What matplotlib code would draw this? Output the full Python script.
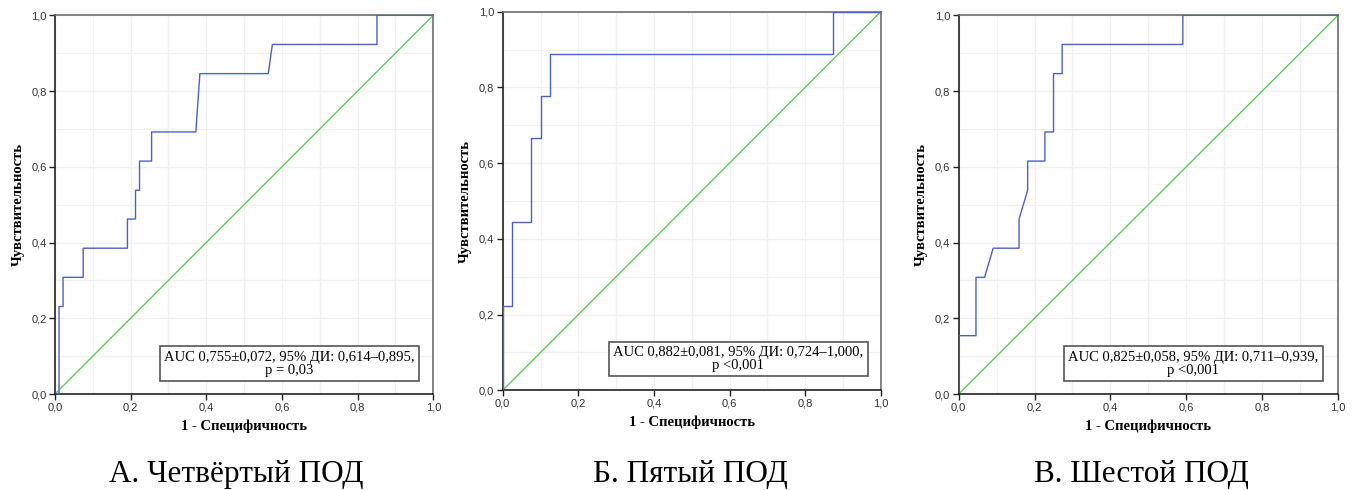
import matplotlib.pyplot as plt
from matplotlib.ticker import MultipleLocator, FuncFormatter

# ROC step points (1 - specificity, sensitivity) for each day
fpr_4 = [0.0, 0.0106, 0.0106, 0.0213, 0.0213, 0.0745, 0.0745, 0.1915, 0.1915, 0.2128, 0.2128,
         0.2234, 0.2234, 0.2553, 0.2553, 0.3723, 0.3830, 0.5638, 0.5745, 0.8511, 0.8511, 1.0]
tpr_4 = [0.0, 0.0, 0.231, 0.231, 0.308, 0.308, 0.385, 0.385, 0.462, 0.462, 0.538,
         0.538, 0.615, 0.615, 0.692, 0.692, 0.846, 0.846, 0.923, 0.923, 1.0, 1.0]

fpr_5 = [0.0, 0.0, 0.025, 0.025, 0.075, 0.075, 0.100, 0.100, 0.125, 0.125, 0.875, 0.875, 1.0]
tpr_5 = [0.0, 0.222, 0.222, 0.444, 0.444, 0.667, 0.667, 0.778, 0.778, 0.889, 0.889, 1.0, 1.0]

fpr_6 = [0.0, 0.0, 0.0455, 0.0455, 0.0682, 0.0909, 0.1591, 0.1591, 0.1818, 0.1818, 0.2273, 0.2273,
         0.2500, 0.2500, 0.2727, 0.2727, 0.5909, 0.5909, 1.0]
tpr_6 = [0.0, 0.154, 0.154, 0.308, 0.308, 0.385, 0.385, 0.462, 0.538, 0.615, 0.615, 0.692,
         0.692, 0.846, 0.846, 0.923, 0.923, 1.0, 1.0]

auc_text = [
    "AUC 0,755±0,072, 95% ДИ: 0,614–0,895,\np = 0,03",
    "AUC 0,882±0,081, 95% ДИ: 0,724–1,000,\np <0,001",
    "AUC 0,825±0,058, 95% ДИ: 0,711–0,939,\np <0,001",
]
captions = ["А. Четвёртый ПОД", "Б. Пятый ПОД", "В. Шестой ПОД"]

curves = [(fpr_4, tpr_4), (fpr_5, tpr_5), (fpr_6, tpr_6)]

# axes positions in pixels (left, top, right, bottom) and box centres in axes coords
W, H = 1357, 490
axes_px = [(55, 15.3, 433.3, 394.0), (502.7, 11.7, 880.7, 390.3), (958.7, 15.3, 1338.0, 394.0)]
box_x = [0.619, 0.623, 0.619]
box_y = [0.080, 0.083, 0.080]
caption_x = [236.5, 690, 1141]

serif = ["Liberation Serif", "DejaVu Serif"]
sans = ["Liberation Sans", "DejaVu Sans"]

fig = plt.figure(figsize=(W / 100, H / 100), dpi=100)

comma = FuncFormatter(lambda v, p: f"{v:.1f}".replace(".", ","))

for i, (l, t, r, b) in enumerate(axes_px):
    ax = fig.add_axes([l / W, 1 - b / H, (r - l) / W, (b - t) / H])
    fpr, tpr = curves[i]
    ax.plot([0, 1], [0, 1], color="#5ccc5c", lw=1.0, zorder=2)
    ax.plot(fpr, tpr, color="#4c61c4", lw=1.0, zorder=3)
    ax.set_xlim(0, 1)
    ax.set_ylim(0, 1)

    ax.xaxis.set_major_locator(MultipleLocator(0.2))
    ax.yaxis.set_major_locator(MultipleLocator(0.2))
    ax.xaxis.set_minor_locator(MultipleLocator(0.1))
    ax.yaxis.set_minor_locator(MultipleLocator(0.1))
    ax.xaxis.set_major_formatter(comma)
    ax.yaxis.set_major_formatter(comma)
    ax.grid(True, which="both", color="#f0f0f0", lw=1.0, zorder=0)
    ax.tick_params(which="major", direction="out", length=4, width=1, color="#222222",
                   labelsize=8, labelcolor="#333333", pad=2)
    ax.tick_params(which="minor", length=0)
    for lab in ax.get_xticklabels() + ax.get_yticklabels():
        lab.set_family(sans)

    for side in ["left", "bottom"]:
        ax.spines[side].set_color("#222222")
        ax.spines[side].set_linewidth(1.2)
    for side in ["top", "right"]:
        ax.spines[side].set_color("#6e6e6e")
        ax.spines[side].set_linewidth(1.2)

    ax.set_xlabel("1 - Специфичность", family=serif, fontweight="bold", fontsize=10.5, labelpad=5)
    ax.set_ylabel("Чувствительность", family=serif, fontweight="bold", fontsize=10.5, labelpad=5)

    ax.text(box_x[i], box_y[i], auc_text[i], transform=ax.transAxes, ha="center", va="center",
            multialignment="center", family=serif, fontsize=10.5, linespacing=1.0, zorder=5,
            bbox=dict(boxstyle="square,pad=0.3", facecolor="white", edgecolor="#555555", lw=1.2))

    fig.text(caption_x[i] / W, 1 - 482 / H, captions[i], ha="center", va="baseline",
             family=serif, fontsize=22.5)

fig.savefig("out.png", dpi=100)
